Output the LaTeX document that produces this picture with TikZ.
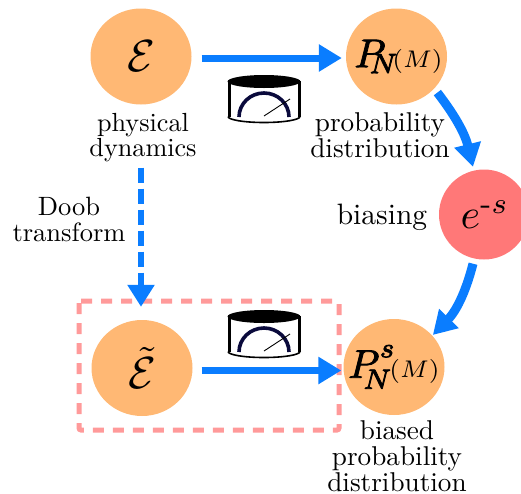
\documentclass[tikz,border=0pt]{standalone}
\usetikzlibrary{arrows.meta,shapes.geometric}
\definecolor{nodeorange}{HTML}{FFB874}
\definecolor{nodered}{HTML}{FF7878}
\definecolor{arrowblue}{HTML}{0A7DFF}
\definecolor{boxpink}{HTML}{FF9A9A}
\definecolor{dialnavy}{HTML}{0A0A3C}
\tikzset{
  x=1pt,y=-1pt,
  blob/.style={ellipse,inner sep=0pt,minimum width=101pt,minimum height=96pt,text=black},
  orangeblob/.style={blob,fill=nodeorange},
  redblob/.style={blob,fill=nodered,minimum width=90pt,minimum height=90pt},
  flow/.style={line width=7pt,color=arrowblue,-{Triangle[length=23pt,width=26pt]}},
  lab/.style={align=center,inner sep=0pt,text=black},
}
\newcommand{\labtext}[2][2.72]{\scalebox{#1}{\def\arraystretch{0.72}\begin{tabular}{@{}c@{}}#2\end{tabular}}}
\newcommand{\heavy}[1]{\special{pdf:code 2 Tr 0.2 w}#1\special{pdf:code 0 Tr}}
\newcommand{\argM}{\hspace{-1.8pt}\scalebox{.86}{$\scriptstyle(M)$}}
\newcommand{\meter}[2]{%
  \begin{scope}[shift={(#1,#2)}]
    \fill[black] (-36.5,6) -- (-36.5,42) -- (-33.5,42) -- (-33.5,6) -- cycle;
    \fill[black] (36.5,6) -- (36.5,42) -- (33.5,42) -- (33.5,6) -- cycle;
    \draw[line width=1.6pt] (-36,41.5) arc[start angle=180,end angle=0,x radius=36,y radius=6];
    \fill[black] (0,6.5) ellipse[x radius=36.5,y radius=6.5];
    \draw[dialnavy,line width=3.6pt] (-25,42) arc[start angle=180,end angle=360,x radius=25,y radius=24];
    \draw[black,line width=0.9pt] (0,41) -- (26,24);
  \end{scope}}
\begin{document}
\begin{tikzpicture}
\useasboundingbox (0,0) rectangle (521,493);
\begin{scope}
\clip (0,0) rectangle (521,493);
\node[orangeblob,label={center:\scalebox{4.5}{$\mathcal{E}$}}] (E) at (141,56.5) {};
\node[orangeblob,label={[xshift=2pt]center:\scalebox{4}{\heavy{$P_{\!\!N}$}\argM}}] (P) at (396.5,56.5) {};
\node[orangeblob,label={center:\scalebox{4.5}{$\tilde{\mathcal{E}}$}}] (T) at (142,368) {};
\node[orangeblob,label={center:\scalebox{4}{\heavy{$P_{\!\!N}^{\raisebox{1.5pt}{$\scriptstyle s$}}$}\argM}}] (S) at (394,367) {};
\node[redblob,label={[xshift=1pt]center:\scalebox{4.2}{$e^{\mathchar"002D s}$}}] (B) at (484,214.5) {};
\end{scope}
\draw[boxpink,line width=5pt,dash pattern=on 11pt off 9pt,rounded corners=2pt] (79,301) rectangle (339,430);
\draw[flow] ([shift={(10,1.5)}]E.east) -- ([shift={(-4,1.5)}]P.west);
\draw[flow] ([shift={(9,2.5)}]T.east) -- ([shift={(-2,3.5)}]S.west);
\draw[flow,line width=6.5pt,dash pattern=on 15pt off 6pt,-{Triangle[length=22pt,width=26pt]}] ([shift={(0,63)}]E.south) -- ([shift={(-1,-13)}]T.north);
\draw[flow,line width=9pt,-{Triangle[length=23pt,width=26pt]}] ([shift={(5,2)}]P.south east) to[bend left=12] ([shift={(-11,-2.5)}]B.north);
\draw[flow,line width=9pt,-{Triangle[length=23pt,width=26pt]}] ([shift={(-11,4)}]B.south) to[bend left=15] ([shift={(3,2)}]S.north east);
\meter{264}{75}
\meter{264}{310}
\node[lab] (l1) at (143,138) {\labtext[2.62]{physical\\dynamics}};
\node[lab] (l2) at (380,139) {\labtext{probability\\distribution}};
\node[lab] (l3) at (69,223) {\labtext[2.65]{Doob\\transform}};
\node[lab] (l4) at (382,218) {\labtext[2.95]{biasing}};
\node[lab] (l5) at (397,460) {\labtext{biased\\probability\\distribution}};
\end{tikzpicture}
\end{document}
